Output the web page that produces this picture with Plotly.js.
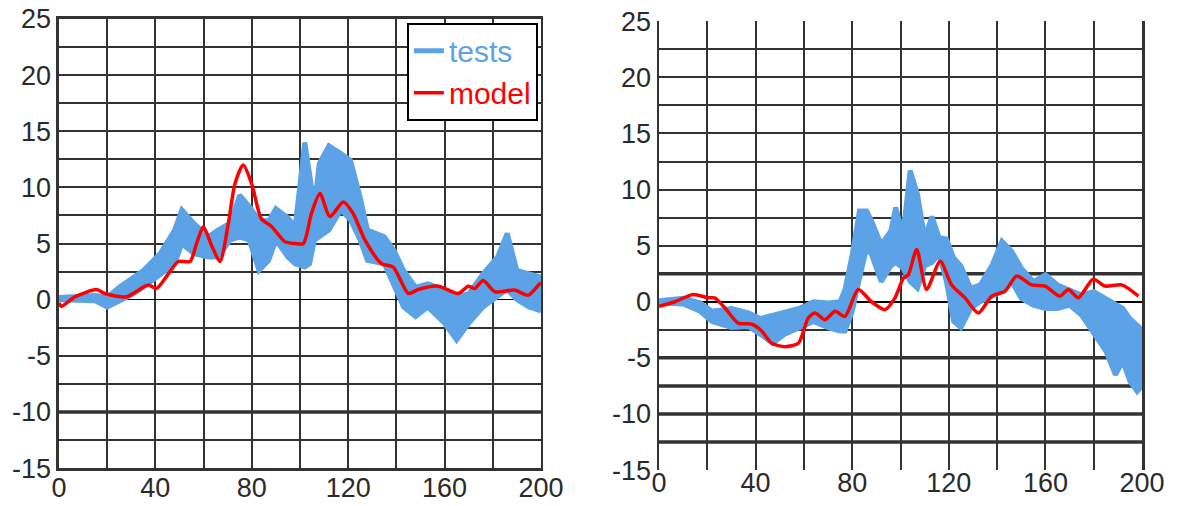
<!DOCTYPE html>
<html>
<head>
<meta charset="utf-8">
<script src="https://cdn.plot.ly/plotly-3.0.1.min.js"></script>
<style>html,body{margin:0;padding:0;background:#fff;}#chart{width:1177px;height:506px;}</style>
</head>
<body>
<div id="chart"></div>
<script>
// ---- Left panel data ----
const modelX_L = [0,1,6.6,15.6,19,28,37,40.5,45.4,49.5,54.4,57.1,59.9,63.3,66.8,70.3,73,76.5,80,84,88.3,93.8,98,101.4,104.8,108.3,112.4,118,122,127,133.9,138.7,145,149,157.4,165.7,169.8,172.6,176,181,189,194.7,199,200];
const modelY_L = [-0.3,-0.6,0.25,0.9,0.55,0.25,1.3,1.0,2.3,3.4,3.4,5.0,6.5,4.85,3.4,6.8,10.3,12.0,10.3,7.2,6.5,5.15,5.0,5.0,7.7,9.45,7.4,8.7,7.7,5.3,3.2,2.9,0.55,0.9,1.2,0.55,1.2,1.0,1.7,0.7,0.85,0.4,1.3,1.5];
const testsX_L = [0,5,10,15,20,25,30,35,42,48,51,56,62,66,71,75,79,83,87,90,95,98,102,104,106,108,112,117,121,125,128,135,139,143,148,153,160,165,170,176,182,186,190,195,200];
const testsHigh_L = [0.2,0.2,0.3,0.4,0.2,1.1,1.8,2.6,4.1,6.2,8.0,6.8,5.6,6.2,6.8,9.3,8.3,7.1,7.0,8.1,7.3,6.5,14.0,11.2,8.3,12.1,13.7,13.0,12.4,9.1,6.2,5.6,4.4,2.6,1.1,1.4,0.9,0.3,0.5,2.3,3.8,5.9,2.6,2.3,2.0];
const testsLow_L = [0,0,0,-0.1,-0.65,-0.1,0.4,1.1,2.3,3.2,5.0,4.1,3.8,3.8,5.3,5.6,5.3,2.6,3.5,5.3,3.8,3.2,2.9,3.2,5.3,5.6,6.2,8.0,7.1,5.3,3.5,3.2,1.4,-0.65,-1.5,-0.65,-2.1,-3.6,-2.1,-0.65,0.3,0.9,0,-0.65,-1.0];

// ---- Right panel data ----
const modelX_R = [0,6.6,14.2,20.4,23,27.3,32.8,38.4,42.5,46.7,52.2,57.7,61.8,64.6,68.7,72.9,77,82.5,88,93.6,97.7,101.2,103.2,106.7,110.8,116.4,121.2,126.7,132.2,137.8,143.3,148.1,154.3,159.8,166,169.5,173.6,179.8,184.7,191.6,198.5];
const modelY_R = [-0.4,0,0.65,0.35,0.35,-0.55,-1.9,-2.0,-2.6,-3.7,-4.0,-3.7,-1.45,-1.0,-1.6,-0.85,-1.3,1.1,0,-0.7,0.35,2.1,2.4,4.65,1.1,3.6,1.5,0.35,-1.0,0.5,0.95,2.3,1.5,1.4,0.5,1.1,0.35,2.0,1.4,1.5,0.5];
const testsX_R = [0,5,10,17,22,30,37,42,47,52,58,64,70,75,77,80,83,86,88,92,96,98,101,104,107,110,113,116,119,122,125,129,133,138,142,146,150,155,160,165,170,175,180,185,189,192,195,198,200];
const testsHigh_R = [0.1,0.2,0.3,-0.1,-0.85,-0.6,-1.0,-1.5,-1.2,-0.9,-0.6,0,-0.1,0,1.1,4.2,8.1,8.1,7.2,5.1,6.3,8.4,6.0,11.7,9.6,5.7,7.6,5.7,5.6,3.9,3.2,1.2,1.5,3.3,5.4,4.5,3.0,1.8,2.4,1.5,1.1,0.6,0.9,0.3,-0.3,-0.6,-1.5,-2.1,-2.5];
const testsLow_R = [-0.1,-0.1,-0.2,-0.85,-1.75,-2.3,-2.2,-2.9,-3.7,-2.9,-2.3,-1.75,-2.3,-2.6,-2.6,-0.85,2.1,4.8,4.2,1.8,3.2,3.5,3.0,1.8,1.2,3.2,3.5,4.2,1.8,-1.75,-2.3,-0.6,0,0.5,0.9,1.8,0.3,-0.3,-0.6,-0.6,-0.3,-1.2,-2.9,-4.4,-6.5,-5.3,-7.1,-8.0,-7.5];

const xTickVals = [0,40,80,120,160,200];
const yTickVals = [-15,-10,-5,0,5,10,15,20,25];
// gridlines drawn heavier in the original figure
const boldGridL = [-10];
const boldGridR = [2.5,-5,-7.5,-10,-12.5];

const BLUE = '#5BA3E6';
const RED = '#FF0000';

function band(x, hi, lo, xa, ya, legend) {
  return [
    {x: x, y: hi, xaxis: xa, yaxis: ya, type: 'scatter', mode: 'lines',
     name: '<span style="color:' + BLUE + '">tests</span>', showlegend: legend, legendgroup: 'tests',
     line: {color: BLUE, width: 5}, hoverinfo: 'skip'},
    {x: x, y: lo, xaxis: xa, yaxis: ya, type: 'scatter', mode: 'lines',
     name: 'tests', showlegend: false, legendgroup: 'tests', fill: 'tonexty', fillcolor: BLUE,
     line: {color: BLUE, width: 5}, hoverinfo: 'skip'}
  ];
}
function model(x, y, xa, ya, legend) {
  return {x: x, y: y, xaxis: xa, yaxis: ya, type: 'scatter', mode: 'lines',
    name: '<span style="color:' + RED + '">model</span>', showlegend: legend, legendgroup: 'model',
    line: {color: RED, width: 3.5, shape: 'spline', smoothing: 0.7}};
}

const data = [].concat(
  band(testsX_L, testsHigh_L, testsLow_L, 'x', 'y', true),
  [model(modelX_L, modelY_L, 'x', 'y', true)],
  band(testsX_R, testsHigh_R, testsLow_R, 'x2', 'y2', false),
  [model(modelX_R, modelY_R, 'x2', 'y2', false)]
);

const FONT = {family: 'Liberation Sans, Arial, sans-serif', size: 27, color: '#2a2a2a'};
const GRID = '#333333';

function xAxis(domain, anchor, showline) {
  return {domain: domain, anchor: anchor, range: [0, 200], tickvals: xTickVals,
    ticktext: xTickVals.map(String), showgrid: true, gridcolor: GRID, gridwidth: 2,
    minor: {tickvals: [20,60,100,140,180], showgrid: true, gridcolor: GRID, gridwidth: 2},
    zeroline: false, showline: showline, linecolor: GRID, linewidth: 2.5, mirror: showline,
    ticks: '', tickfont: FONT, ticklabelstandoff: -6, fixedrange: true};
}
function yAxis(domain, anchor) {
  return {domain: domain, anchor: anchor, range: [-15, 25], tickvals: yTickVals,
    ticktext: yTickVals.map(String), showgrid: true, gridcolor: GRID, gridwidth: 2,
    minor: {tickvals: [-12.5,-7.5,-2.5,2.5,7.5,12.5,17.5,22.5], showgrid: true, gridcolor: GRID, gridwidth: 2},
    zeroline: true, zerolinecolor: '#000', zerolinewidth: 1.5,
    showline: true, linecolor: GRID, linewidth: 2.5, mirror: true,
    ticks: '', tickfont: FONT, fixedrange: true};
}

function boldLines(vals, xref, yref) {
  return vals.map(v => ({type: 'line', xref: xref + ' domain', yref: yref, x0: 0, x1: 1, y0: v, y1: v,
    line: {color: '#333', width: 3.5}, layer: 'below'}));
}

const layout = {
  width: 1177, height: 506,
  margin: {l: 0, r: 0, t: 0, b: 0},
  paper_bgcolor: '#fff', plot_bgcolor: '#fff',
  font: FONT,
  showlegend: true,
  xaxis: xAxis([0.0501, 0.4596], 'y', true),
  yaxis: yAxis([0.075, 0.9625], 'x'),
  xaxis2: xAxis([0.5599, 0.9703], 'y2', false),
  yaxis2: yAxis([0.071, 0.958], 'x2'),
  shapes: boldLines(boldGridL, 'x', 'y').concat(boldLines(boldGridR, 'x2', 'y2')),
  legend: {x: 0.457, xanchor: 'right', y: 0.955, yanchor: 'top',
    bgcolor: '#fff', bordercolor: '#000', borderwidth: 2,
    font: {family: 'Liberation Sans, Arial, sans-serif', size: 30, color: '#000'},
    itemwidth: 30, tracegroupgap: 0}
};

Plotly.newPlot('chart', data, layout, {displayModeBar: false, staticPlot: true});
</script>
</body>
</html>
